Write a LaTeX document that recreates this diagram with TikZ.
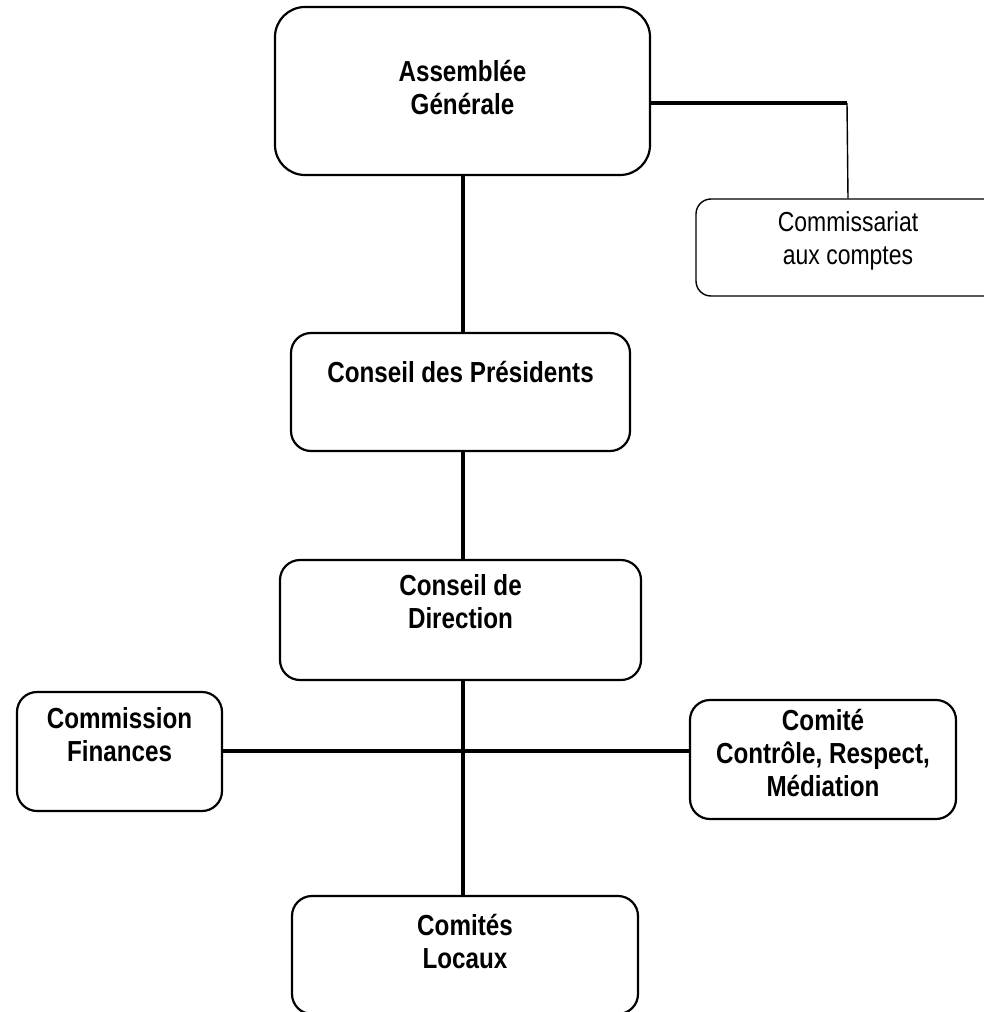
\documentclass[tikz,border=0pt]{standalone}
\usepackage{fontspec}
\setmainfont{Liberation Sans}
\newfontfamily\orgfont[FakeStretch=0.835]{Liberation Sans}
\usetikzlibrary{positioning}

\tikzset{
  box/.style={draw=black, line width=2.2pt, rounded corners=20pt, inner sep=0pt},
  thinbox/.style={draw=black, line width=1.4pt, rounded corners=15pt, inner sep=0pt},
  lbl/.style={align=center, inner sep=0pt, font=\orgfont\bfseries\fontsize{29}{33}\selectfont},
  plainlbl/.style={align=center, inner sep=0pt, font=\orgfont\fontsize{27.5}{33}\selectfont},
  link/.style={line width=4pt},
  thinlink/.style={line width=1.4pt}
}

\begin{document}
\begin{tikzpicture}[x=1pt, y=-1pt]
          \useasboundingbox (0,0) rectangle (983,1012);

          % boxes
          \node[box, rounded corners=30pt, minimum width=375pt, minimum height=168pt] (ag) at (462.5,91) {};
          \node[thinbox, minimum width=304pt, minimum height=97pt] (cac) at (848,247.5) {};
          \node[box, minimum width=339pt, minimum height=118pt] (cdp) at (460.5,392) {};
          \node[box, minimum width=361pt, minimum height=120pt] (cdd) at (460.5,620) {};
          \node[box, minimum width=205pt, minimum height=119pt] (cf) at (119.5,751.5) {};
          \node[box, minimum width=266pt, minimum height=119pt] (crm) at (823,759.5) {};
          \node[box, minimum width=346pt, minimum height=118pt] (cl) at (465,955) {};

          % texts
          \node[lbl] (agt) at (462.5,88) {Assemblée\\Générale};
          \node[plainlbl] (cact) at (848,241) {Commissariat\\aux comptes};
          \node[lbl] (cdpt) at (460.5,372) {Conseil des Présidents};
          \node[lbl] (cddt) at (460.5,602) {Conseil de\\Direction};
          \node[lbl] (cft) at (119.5,735) {Commission\\Finances};
          \node[lbl] (crmt) at (823,753) {Comité\\Contrôle, Respect,\\Médiation};
          \node[lbl] (clt) at (465,941) {Comités\\Locaux};

          % connectors
          \coordinate (elbow) at (847,103);
          \coordinate (hub) at (462.5,750.5);
          \draw[link] ([yshift=-12pt]ag.east) -- (elbow);
          \draw[thinlink] (elbow) -- (cac.north);
          \draw[link] (ag.south) -- (ag.south |- cdp.north);
          \draw[link] (ag.south |- cdp.south) -- (ag.south |- cdd.north);
          \draw[link] (ag.south |- cdd.south) -- (ag.south |- cl.north);
          \draw[link] (cf.east |- hub) -- (crm.west |- hub);
\end{tikzpicture}
\end{document}
